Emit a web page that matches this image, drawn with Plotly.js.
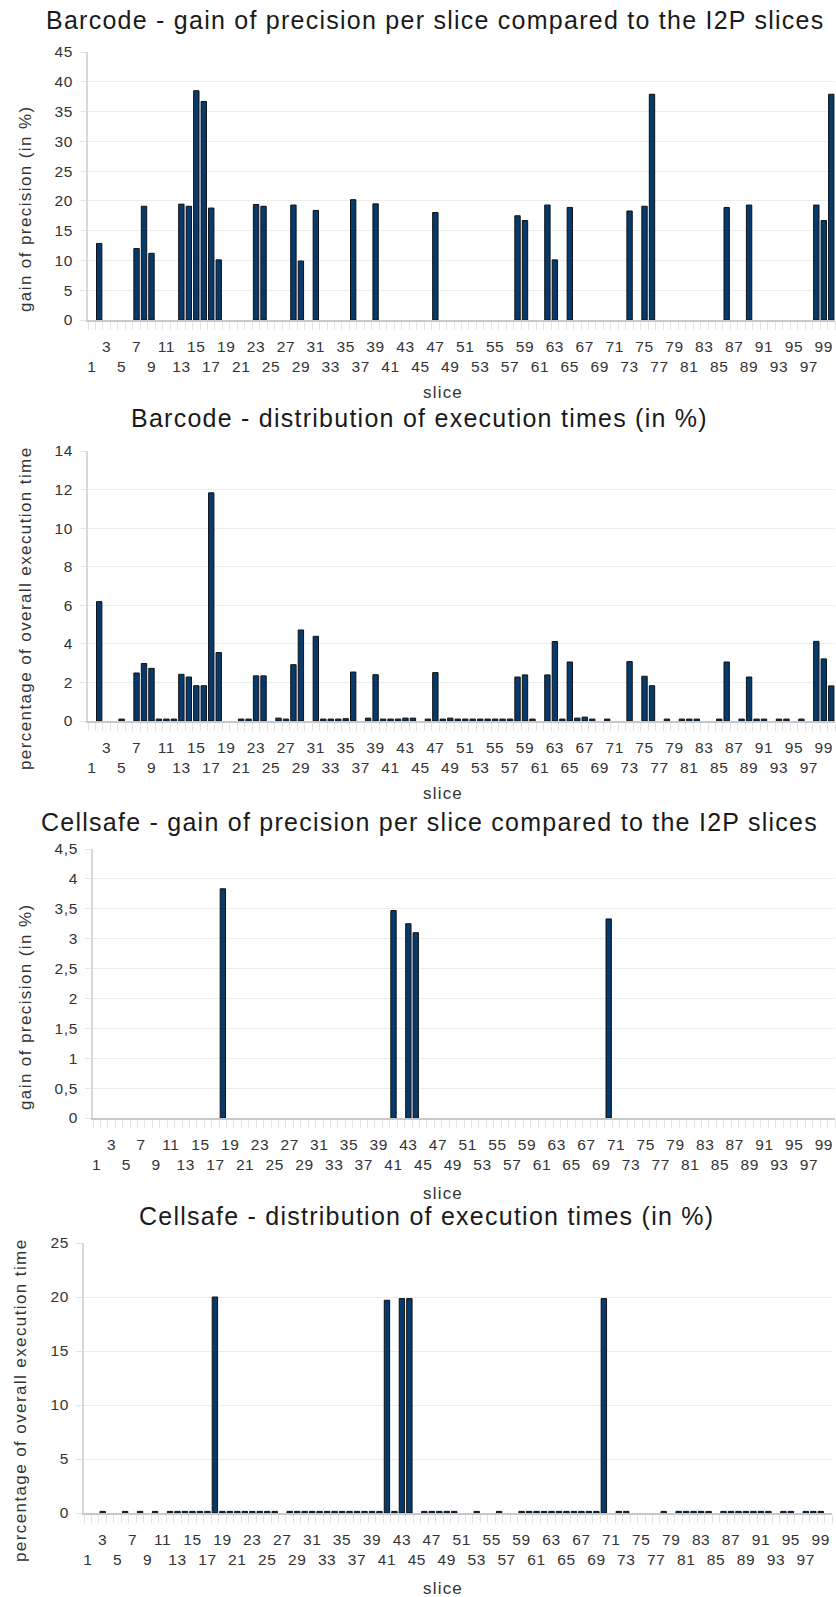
<!DOCTYPE html>
<html><head><meta charset="utf-8">
<script src="https://cdn.plot.ly/plotly-3.0.1.min.js"></script>
<style>html,body{margin:0;padding:0;background:#fff}#chart{width:836px;height:1597px}</style>
</head><body><div id="chart"></div>
<script>
// ---- data ----
const barcodeGainSlices = [2,7,8,9,13,14,15,16,17,18,23,24,28,29,31,36,39,47,58,59,62,63,65,73,75,76,86,89,98,99,100];
const barcodeGainValues = [12.86,12.0,19.1,11.2,19.45,19.1,38.5,36.7,18.8,10.1,19.4,19.1,19.3,9.9,18.4,20.2,19.5,18.05,17.5,16.7,19.3,10.1,18.9,18.3,19.1,37.9,18.9,19.3,19.3,16.7,37.9];

const barcodeTimeSlices = [2,5,7,8,9,10,11,12,13,14,15,16,17,18,21,22,23,24,26,27,28,29,31,32,33,34,35,36,38,39,40,41,42,43,44,46,47,48,49,50,51,52,53,54,55,56,57,58,59,60,62,63,64,65,66,67,68,70,73,75,76,78,80,81,82,85,86,88,89,90,91,93,94,96,98,99,100];
const barcodeTimeValues = [6.19,0.1,2.49,2.98,2.73,0.1,0.1,0.1,2.42,2.28,1.83,1.83,11.83,3.55,0.1,0.1,2.34,2.34,0.15,0.1,2.92,4.72,4.39,0.1,0.1,0.1,0.12,2.54,0.15,2.4,0.1,0.1,0.1,0.15,0.15,0.1,2.51,0.1,0.15,0.1,0.1,0.1,0.1,0.1,0.1,0.1,0.1,2.28,2.39,0.1,2.39,4.12,0.1,3.06,0.15,0.2,0.1,0.1,3.08,2.32,1.83,0.1,0.1,0.1,0.1,0.1,3.06,0.1,2.28,0.1,0.1,0.1,0.1,0.1,4.13,3.22,1.82];

const cellsafeGainSlices = [18,41,43,44,70];
const cellsafeGainValues = [3.835,3.47,3.25,3.10,3.33];

const cellsafeTimeSlices = [3,6,8,10,12,13,14,15,16,17,18,19,20,21,22,23,24,25,26,28,29,30,31,32,33,34,35,36,37,38,39,40,41,42,43,44,46,47,48,49,50,53,56,59,60,61,62,63,64,65,66,67,68,69,70,72,73,78,80,81,82,83,84,86,87,88,89,90,91,92,94,95,97,98,99];
const cellsafeTimeValues = [0.15,0.15,0.15,0.15,0.15,0.15,0.15,0.15,0.15,0.15,20.0,0.15,0.15,0.15,0.15,0.15,0.15,0.15,0.15,0.15,0.15,0.15,0.15,0.15,0.15,0.15,0.15,0.15,0.15,0.15,0.15,0.15,19.7,0.15,19.85,19.85,0.15,0.15,0.15,0.15,0.15,0.15,0.15,0.15,0.15,0.15,0.15,0.15,0.15,0.15,0.15,0.15,0.15,0.15,19.85,0.15,0.15,0.15,0.15,0.15,0.15,0.15,0.15,0.15,0.15,0.15,0.15,0.15,0.15,0.15,0.15,0.15,0.15,0.15,0.15];

const tickRowTop = [3,7,11,15,19,23,27,31,35,39,43,47,51,55,59,63,67,71,75,79,83,87,91,95,99];
const tickRowBottom = [1,5,9,13,17,21,25,29,33,37,41,45,49,53,57,61,65,69,73,77,81,85,89,93,97];

const barcodeGainTickVals = [0,5,10,15,20,25,30,35,40,45];
const barcodeGainTickText = ["0","5","10","15","20","25","30","35","40","45"];
const barcodeTimeTickVals = [0,2,4,6,8,10,12,14];
const barcodeTimeTickText = ["0","2","4","6","8","10","12","14"];
const cellsafeGainTickVals = [0,0.5,1,1.5,2,2.5,3,3.5,4,4.5];
const cellsafeGainTickText = ["0","0,5","1","1,5","2","2,5","3","3,5","4","4,5"];
const cellsafeTimeTickVals = [0,5,10,15,20,25];
const cellsafeTimeTickText = ["0","5","10","15","20","25"];

const chartTitles = [
  "Barcode - gain of precision per slice compared to the I2P slices",
  "Barcode - distribution of execution times (in %)",
  "Cellsafe - gain of precision per slice compared to the I2P slices",
  "Cellsafe - distribution of execution times (in %)"
];
const yTitles = ["gain of precision (in %)","percentage of overall execution time","gain of precision (in %)","percentage of overall execution time"];
const xTitle = "slice";

// ---- build ----
const W = 836, H = 1597;
const FONT = "Liberation Sans, Arial, sans-serif";
const BAR = "#063a6c";
const sp = (t, px) => '<span style="letter-spacing:' + px + 'px">' + t + '</span>';
const TICKSP = 0.6;

let tv = [], tt = [];
tickRowBottom.concat(tickRowTop).sort((a,b)=>a-b).forEach(n => {
  tv.push(n);
  tt.push(tickRowTop.includes(n) ? sp(String(n), TICKSP) : "<br>" + sp(String(n), TICKSP));
});

const panels = [
  {xs: barcodeGainSlices, ys: barcodeGainValues, left: 88, right: 835, top: 52, bottom: 320, ymax: 45,
   ytv: barcodeGainTickVals, ytt: barcodeGainTickText,
   title: [436, 20], ytitle: [25, 209], xtitle: [443, 392]},
  {xs: barcodeTimeSlices, ys: barcodeTimeValues, left: 88, right: 835, top: 451, bottom: 721, ymax: 14,
   ytv: barcodeTimeTickVals, ytt: barcodeTimeTickText,
   title: [420, 418], ytitle: [25, 608], xtitle: [443, 793]},
  {xs: cellsafeGainSlices, ys: cellsafeGainValues, left: 93, right: 835, top: 849, bottom: 1118, ymax: 4.5,
   ytv: cellsafeGainTickVals, ytt: cellsafeGainTickText,
   title: [430, 822], ytitle: [25, 1007], xtitle: [443, 1193]},
  {xs: cellsafeTimeSlices, ys: cellsafeTimeValues, left: 84, right: 832, top: 1243, bottom: 1513, ymax: 25,
   ytv: cellsafeTimeTickVals, ytt: cellsafeTimeTickText,
   title: [426, 1216], ytitle: [20, 1400], xtitle: [443, 1588]}
];

const data = [];
const layout = {
  width: W, height: H, margin: {l:0, r:0, t:0, b:0},
  paper_bgcolor: "#fff", plot_bgcolor: "#fff",
  showlegend: false, font: {family: FONT, color: "#333"},
  annotations: []
};

panels.forEach((p, i) => {
  const k = i === 0 ? "" : String(i + 1);
  data.push({
    type: "bar", x: p.xs, y: p.ys, xaxis: "x" + k, yaxis: "y" + k,
    width: 0.72,
    marker: {color: BAR, line: {color: "#111", width: 1}},
    hoverinfo: "x+y"
  });
  layout["xaxis" + k] = {
    domain: [p.left / W, p.right / W], anchor: "y" + k,
    range: [0.5, 100.5], tickmode: "array", tickvals: tv, ticktext: tt,
    tickangle: 0,
    ticks: "", showgrid: false, zeroline: false,
    showline: true, linecolor: "#c8c8c8", linewidth: 2,
    tickfont: {size: 15.5, color: "#333", family: FONT},
    ticklabelstandoff: 11, fixedrange: true,
    minor: {tickmode: "linear", tick0: 0.5, dtick: 1, ticks: "outside", ticklen: 8, tickcolor: "#e4e4e4", tickwidth: 1, showgrid: false}
  };
  layout["yaxis" + k] = {
    domain: [1 - p.bottom / H, 1 - p.top / H], anchor: "x" + k,
    range: [0, p.ymax], tickmode: "array", tickvals: p.ytv, ticktext: p.ytt.map(s => sp(s, TICKSP)),
    showgrid: true, gridcolor: "#ececec", gridwidth: 1,
    zeroline: false, showline: true, linecolor: "#d8d8d8", linewidth: 2,
    ticks: "outside", ticklen: 6, tickcolor: "#e4e4e4",
    tickfont: {size: 15.5, color: "#333", family: FONT},
    ticklabelstandoff: 4, fixedrange: true
  };

  layout.annotations.push({
    text: sp(chartTitles[i], 1.25), xref: "paper", yref: "paper",
    x: p.title[0] / W, y: 1 - p.title[1] / H, xanchor: "center", yanchor: "middle",
    showarrow: false, font: {size: 25, color: "#1a1a1a", family: FONT}
  });
  layout.annotations.push({
    text: sp(yTitles[i], 1.4), xref: "paper", yref: "paper", textangle: -90,
    x: p.ytitle[0] / W, y: 1 - p.ytitle[1] / H, xanchor: "center", yanchor: "middle",
    showarrow: false, font: {size: 17, color: "#333", family: FONT}
  });
  layout.annotations.push({
    text: sp(xTitle, 1.2), xref: "paper", yref: "paper",
    x: p.xtitle[0] / W, y: 1 - p.xtitle[1] / H, xanchor: "center", yanchor: "middle",
    showarrow: false, font: {size: 17, color: "#333", family: FONT}
  });
});

Plotly.newPlot("chart", data, layout, {staticPlot: true, displayModeBar: false});
</script>
</body></html>
